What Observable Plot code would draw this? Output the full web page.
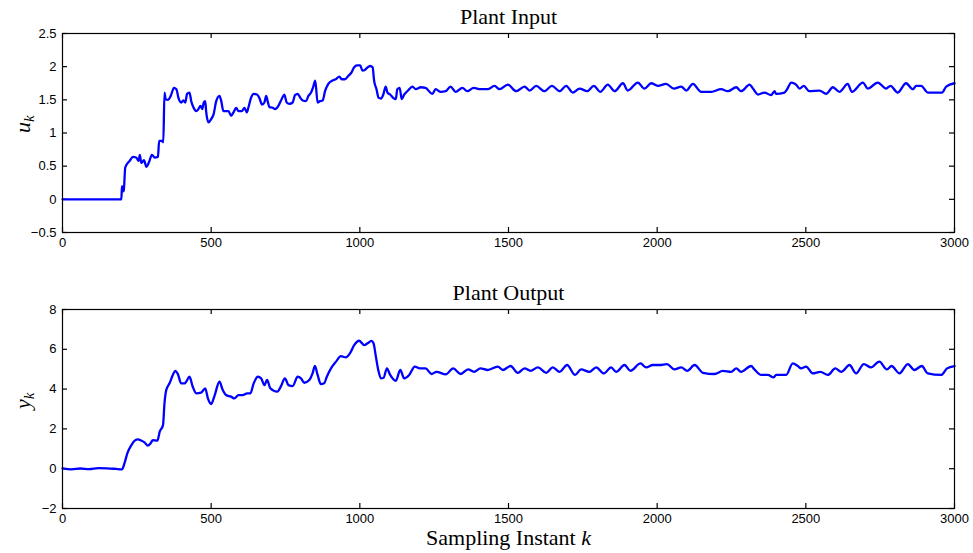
<!DOCTYPE html>
<html><head><meta charset="utf-8">
<script src="https://cdn.jsdelivr.net/npm/d3@7"></script>
<script src="https://cdn.jsdelivr.net/npm/@observablehq/plot@0.6"></script>
<style>
body{margin:0;background:#fff;}
#chart{width:973px;height:553px;position:relative;overflow:hidden;}
#chart svg{display:block;}
</style></head><body><div id="chart"></div>
<script>
const xTicks = [0, 500, 1000, 1500, 2000, 2500, 3000];
const uTicks = [-0.5, 0, 0.5, 1, 1.5, 2, 2.5];
const yTicks = [-2, 0, 2, 4, 6, 8];

const titleIn = "Plant Input";
const titleOut = "Plant Output";
const xLabel = "Sampling Instant k";

const kIn = [0,198,200,203,206,211,226,237,248,256,260,265,274,282,290,301,310,321,325,334,339,343,347,355,364,375,383,390,399,407,413,419,427,433,441,450,457,464,470,475,480,483,491,500,508,517,528,534,541,550,558,567,575,584,592,603,612,620,625,634,643,654,662,671,679,685,690,696,707,715,726,737,746,754,763,774,782,791,800,808,819,827,836,843,850,858,866,875,883,894,908,919,931,939,950,961,970,981,990,1001,1009,1017,1026,1035,1043,1048,1056,1063,1071,1079,1087,1093,1102,1112,1121,1126,1134,1141,1149,1162,1177,1188,1205,1221,1244,1255,1272,1289,1305,1322,1345,1361,1383,1406,1430,1453,1470,1498,1526,1554,1571,1593,1621,1646,1672,1694,1716,1739,1765,1787,1809,1834,1857,1885,1901,1935,1957,1980,2002,2030,2056,2081,2098,2120,2148,2182,2215,2238,2266,2282,2311,2322,2339,2361,2383,2395,2400,2428,2437,2451,2467,2479,2493,2512,2546,2568,2591,2613,2641,2655,2692,2708,2742,2770,2785,2809,2837,2860,2871,2888,2910,2958,2972,3000];
const uIn = [0,0,0.20,0.12,0.13,0.48,0.58,0.64,0.63,0.58,0.67,0.55,0.59,0.49,0.55,0.67,0.63,0.64,0.88,0.88,0.86,1.61,1.51,1.50,1.56,1.68,1.66,1.53,1.46,1.49,1.46,1.59,1.61,1.48,1.38,1.33,1.36,1.41,1.36,1.46,1.48,1.33,1.16,1.21,1.28,1.48,1.56,1.48,1.33,1.33,1.33,1.26,1.31,1.38,1.33,1.33,1.38,1.31,1.38,1.53,1.59,1.58,1.53,1.43,1.46,1.56,1.48,1.39,1.38,1.36,1.41,1.51,1.58,1.46,1.44,1.46,1.57,1.59,1.53,1.49,1.48,1.56,1.61,1.69,1.79,1.46,1.48,1.49,1.63,1.74,1.79,1.81,1.85,1.81,1.81,1.86,1.90,1.99,2.02,2.02,1.94,1.95,1.99,2.01,1.99,1.79,1.66,1.53,1.52,1.58,1.70,1.61,1.58,1.53,1.51,1.66,1.68,1.51,1.58,1.64,1.70,1.66,1.69,1.68,1.59,1.66,1.62,1.63,1.70,1.62,1.68,1.63,1.68,1.66,1.66,1.71,1.66,1.73,1.63,1.70,1.64,1.71,1.63,1.71,1.63,1.71,1.61,1.67,1.63,1.71,1.62,1.73,1.63,1.75,1.64,1.76,1.67,1.75,1.71,1.74,1.67,1.70,1.64,1.74,1.62,1.62,1.66,1.63,1.69,1.63,1.73,1.67,1.58,1.61,1.57,1.63,1.59,1.61,1.66,1.76,1.73,1.67,1.71,1.63,1.64,1.59,1.69,1.62,1.74,1.62,1.76,1.67,1.76,1.67,1.71,1.61,1.75,1.66,1.71,1.71,1.61,1.61,1.70,1.75];

const kOut = [0,30,60,90,120,150,180,198,200,209,218,232,243,254,265,276,287,296,304,319,327,338,343,349,360,371,379,388,399,411,416,427,438,450,466,480,489,500,511,528,539,550,567,578,592,606,621,632,643,657,668,679,688,699,722,735,748,760,774,791,802,813,830,841,849,858,869,880,889,903,920,936,953,968,981,998,1015,1026,1039,1046,1054,1062,1071,1080,1091,1102,1121,1136,1149,1166,1185,1202,1221,1241,1258,1289,1314,1339,1364,1384,1406,1430,1464,1481,1507,1531,1554,1574,1599,1627,1649,1672,1697,1724,1744,1772,1795,1821,1845,1862,1890,1910,1944,1963,1985,2008,2033,2058,2081,2101,2126,2154,2193,2221,2249,2266,2282,2316,2327,2350,2372,2392,2400,2434,2456,2473,2484,2501,2523,2549,2574,2599,2619,2647,2669,2695,2719,2747,2773,2788,2815,2843,2865,2890,2910,2955,2975,3000];
const yOut = [0.02,-0.03,0.01,-0.02,0.03,0.02,-0.01,-0.03,-0.03,0.30,0.77,1.19,1.41,1.47,1.41,1.32,1.16,1.27,1.44,1.41,1.86,2.19,3.28,3.95,4.29,4.71,4.92,4.76,4.29,4.29,4.37,4.62,4.12,3.79,3.82,4.04,3.53,3.25,3.65,4.37,3.95,3.70,3.62,3.53,3.70,3.70,3.79,3.79,4.29,4.62,4.54,4.20,4.46,4.04,3.87,4.15,4.54,4.20,4.15,4.62,4.54,4.32,4.46,4.79,5.16,4.71,4.25,4.29,4.62,5.04,5.38,5.66,5.59,5.83,6.21,6.43,6.21,6.30,6.42,6.30,5.63,4.96,4.54,4.57,5.04,4.71,4.42,4.96,4.54,4.71,5.13,5.04,5.04,4.76,4.87,4.74,5.04,4.76,4.99,4.87,5.04,4.96,5.13,4.96,5.16,4.82,5.04,4.92,5.09,4.82,5.09,4.87,5.21,4.71,4.99,4.87,5.09,4.79,5.09,4.87,5.21,4.92,5.29,5.09,5.21,5.21,5.26,4.99,5.09,4.92,5.21,4.82,4.76,4.92,4.87,5.04,4.87,5.16,4.99,4.71,4.71,4.59,4.71,4.71,5.29,5.16,5.04,5.13,4.79,4.87,4.71,5.04,4.87,5.21,4.79,5.26,5.09,5.38,4.99,5.16,4.79,5.26,4.96,5.16,4.79,4.71,5.04,5.16];

const serif = "'Liberation Serif', 'Times New Roman', serif";
const sans = "'Liberation Sans', Arial, Helvetica, sans-serif";
const fmt = d => d < 0 ? "\u2212" + Math.abs(d) : String(d);

const W = 973, ML = 62, MR = 19, MT = 33, FH = 199, TICK = 5;
const FW = W - ML - MR;
const xDomain = [0, 3000];

function panel({k, v, domainY, ticksY, title, yName, height, xlab}) {
  const data = k.map((kk, i) => ({k: kk, v: v[i]}));
  const [y0, y1] = domainY;
  const ty = (y1 - y0) * TICK / FH;           // tick length in y units
  const tx = (xDomain[1] - xDomain[0]) * TICK / FW; // tick length in x units
  const marks = [
    Plot.axisX({ticks: xTicks, anchor: "bottom", tickSize: 0, tickPadding: 5, tickFormat: fmt, label: null, fontSize: 13}),
    Plot.axisY({ticks: ticksY, anchor: "left", tickSize: 0, tickPadding: 6, tickFormat: fmt, label: null, fontSize: 13}),
    Plot.ruleX(xTicks, {x: d => d, y1: y0, y2: y0 + ty, stroke: "black", strokeWidth: 1.2}),
    Plot.ruleX(xTicks, {x: d => d, y1: y1, y2: y1 - ty, stroke: "black", strokeWidth: 1.2}),
    Plot.ruleY(ticksY, {y: d => d, x1: xDomain[0], x2: xDomain[0] + tx, stroke: "black", strokeWidth: 1.2}),
    Plot.ruleY(ticksY, {y: d => d, x1: xDomain[1], x2: xDomain[1] - tx, stroke: "black", strokeWidth: 1.2}),
    Plot.line(data, {x: "k", y: "v", stroke: "#0000ff", strokeWidth: 2.3, curve: "monotone-x"}),
    Plot.frame({stroke: "black", strokeWidth: 1.2}),
    Plot.text([title], {frameAnchor: "top", lineAnchor: "middle", dy: -17, fontFamily: serif, fontSize: 22, fill: "black"}),
    Plot.text([yName], {frameAnchor: "left", lineAnchor: "middle", dx: -40, rotate: -90, fontFamily: serif, fontSize: 22, fontStyle: "italic", fill: "black"})
  ];
  if (xlab) marks.push(Plot.text([xlab], {frameAnchor: "bottom", lineAnchor: "middle", dy: 29, fontFamily: serif, fontSize: 22, fill: "black"}));
  return Plot.plot({
    width: W, height, marginTop: MT, marginBottom: height - MT - FH, marginLeft: ML, marginRight: MR,
    style: {fontFamily: sans, fontSize: "13px", color: "black", background: "white", overflow: "visible"},
    x: {domain: xDomain},
    y: {domain: domainY},
    marks
  });
}

const topPanel = panel({k: kIn, v: uIn, domainY: [-0.5, 2.5], ticksY: uTicks, title: titleIn, yName: "u", height: 276});
const botPanel = panel({k: kOut, v: yOut, domainY: [-2, 8], ticksY: yTicks, title: titleOut, yName: "y", height: 277, xlab: xLabel});
document.getElementById("chart").append(topPanel, botPanel);

d3.selectAll("#chart text").each(function() {
  const t = d3.select(this);
  const s = this.textContent;
  if (s === "u" || s === "y") {
    t.text(null);
    t.append("tspan").text(s);
    t.append("tspan").attr("font-size", 15).attr("dy", "0.3em").text("k");
  } else if (s === xLabel) {
    t.text(null);
    t.append("tspan").text("Sampling Instant ");
    t.append("tspan").attr("font-style", "italic").text("k");
  }
});
</script></body></html>
